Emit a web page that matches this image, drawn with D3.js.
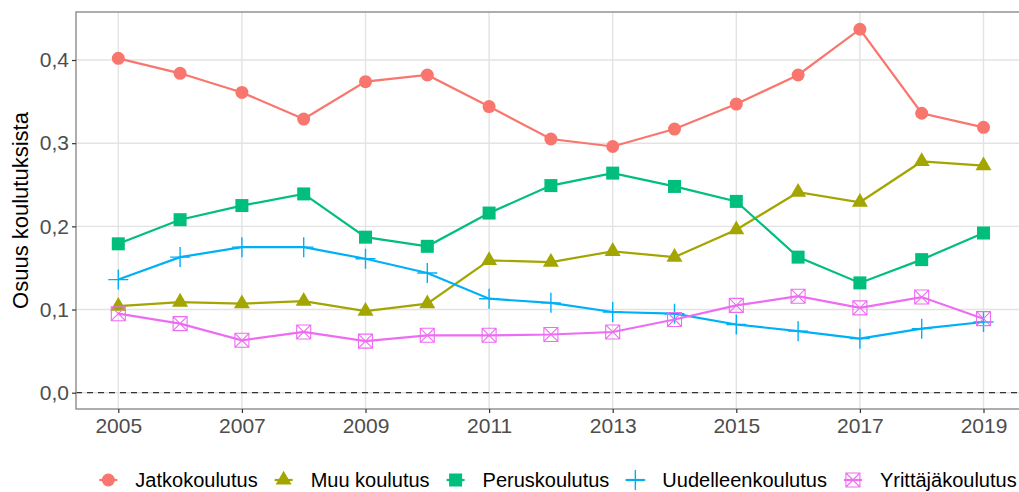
<!DOCTYPE html>
<html>
<head>
<meta charset="utf-8">
<script src="https://cdn.jsdelivr.net/npm/d3@7"></script>
<style>
  html, body { margin: 0; padding: 0; background: #fff; }
  svg { display: block; font-family: "Liberation Sans", Arial, sans-serif; }
</style>
</head>
<body>
<svg id="chart" width="1019" height="492"></svg>
<script>
const years = [2005, 2006, 2007, 2008, 2009, 2010, 2011, 2012, 2013, 2014, 2015, 2016, 2017, 2018, 2019];
const seriesNames = ["Jatkokoulutus", "Muu koulutus", "Peruskoulutus", "Uudelleenkoulutus", "Yrittäjäkoulutus"];
const jatkokoulutus     = [0.402, 0.384, 0.361, 0.329, 0.374, 0.382, 0.344, 0.305, 0.296, 0.317, 0.347, 0.382, 0.437, 0.336, 0.319];
const muuKoulutus       = [0.104, 0.109, 0.107, 0.110, 0.098, 0.107, 0.159, 0.157, 0.170, 0.163, 0.196, 0.241, 0.229, 0.278, 0.273];
const peruskoulutus     = [0.179, 0.208, 0.225, 0.239, 0.187, 0.176, 0.216, 0.249, 0.264, 0.248, 0.230, 0.163, 0.132, 0.160, 0.192];
const uudelleenkoulutus = [0.136, 0.163, 0.175, 0.175, 0.161, 0.144, 0.113, 0.108, 0.097, 0.095, 0.082, 0.074, 0.065, 0.077, 0.085];
const yrittajakoulutus  = [0.095, 0.083, 0.063, 0.073, 0.062, 0.069, 0.069, 0.070, 0.073, 0.088, 0.105, 0.116, 0.102, 0.115, 0.089];
const yTicks = [0, 0.1, 0.2, 0.3, 0.4];
const xTicks = [2005, 2007, 2009, 2011, 2013, 2015, 2017, 2019];
const yTitle = "Osuus koulutuksista";

const colors = ["#F8766D", "#A3A500", "#00BF7D", "#00B0F6", "#EE6BF3"];
const shapes = ["circle", "triangle", "square", "plus", "boxx"];
const values = [jatkokoulutus, muuKoulutus, peruskoulutus, uudelleenkoulutus, yrittajakoulutus];
const series = seriesNames.map((name, i) => ({
  name, color: colors[i], shape: shapes[i],
  points: years.map((y, j) => ({ year: y, value: values[i][j] }))
}));

const svg = d3.select("#chart");
const panel = { left: 76, top: 12, right: 1027, bottom: 409 };

const x = d3.scaleLinear().domain([2005, 2019]).range([118.3, 983.5]);
const y = d3.scaleLinear().domain([0, 0.4]).range([392.7, 60]);

// gridlines
const g = svg.append("g");
g.selectAll(".hgrid").data(yTicks).enter().append("line")
  .attr("x1", panel.left).attr("x2", panel.right)
  .attr("y1", d => y(d)).attr("y2", d => y(d))
  .attr("stroke", "#E3E3E3").attr("stroke-width", 1.4);
g.selectAll(".vgrid").data(xTicks).enter().append("line")
  .attr("x1", d => x(d)).attr("x2", d => x(d))
  .attr("y1", panel.top).attr("y2", panel.bottom)
  .attr("stroke", "#E3E3E3").attr("stroke-width", 1.4);

// dashed zero line
g.append("line")
  .attr("x1", panel.left).attr("x2", panel.right)
  .attr("y1", y(0)).attr("y2", y(0))
  .attr("stroke", "#333").attr("stroke-width", 1.2)
  .attr("stroke-dasharray", "6,5");

// lines
const line = d3.line().x(d => x(d.year)).y(d => y(d.value));
series.forEach(s => {
  g.append("path").datum(s.points)
    .attr("d", line).attr("fill", "none")
    .attr("stroke", s.color).attr("stroke-width", 2.2);
});

function drawShape(sel, shape, color, cx, cy) {
  if (shape === "circle") {
    sel.append("circle").attr("cx", cx).attr("cy", cy).attr("r", 6.5).attr("fill", color);
  } else if (shape === "square") {
    sel.append("rect").attr("x", cx - 6.5).attr("y", cy - 6.5).attr("width", 13).attr("height", 13).attr("fill", color);
  } else if (shape === "triangle") {
    const s = 16, h = s * Math.sqrt(3) / 2;
    sel.append("path")
      .attr("d", `M${cx},${cy - h * 2 / 3} L${cx + s / 2},${cy + h / 3} L${cx - s / 2},${cy + h / 3} Z`)
      .attr("fill", color);
  } else if (shape === "plus") {
    const r = 10;
    sel.append("path")
      .attr("d", `M${cx - r},${cy} H${cx + r} M${cx},${cy - r} V${cy + r}`)
      .attr("stroke", color).attr("stroke-width", 1.4).attr("fill", "none");
  } else if (shape === "boxx") {
    const r = 7;
    sel.append("path")
      .attr("d", `M${cx - r},${cy - r} H${cx + r} V${cy + r} H${cx - r} Z M${cx - r},${cy - r} L${cx + r},${cy + r} M${cx + r},${cy - r} L${cx - r},${cy + r}`)
      .attr("stroke", color).attr("stroke-width", 1.1).attr("fill", "none");
  }
}

series.forEach(s => {
  const pg = g.append("g");
  s.points.forEach(p => drawShape(pg, s.shape, s.color, x(p.year), y(p.value)));
});

// panel border
svg.append("rect")
  .attr("x", panel.left).attr("y", panel.top)
  .attr("width", panel.right - panel.left).attr("height", panel.bottom - panel.top)
  .attr("fill", "none").attr("stroke", "#8C8C8C").attr("stroke-width", 1.4);

// axes
const yAxis = svg.append("g").attr("transform", `translate(${panel.left},0)`)
  .call(d3.axisLeft(y).tickValues(yTicks).tickSize(4).tickPadding(3)
    .tickFormat(d => d3.format(".1f")(d).replace(".", ",")));
const xAxis = svg.append("g").attr("transform", `translate(0,${panel.bottom})`)
  .call(d3.axisBottom(x).tickValues(xTicks).tickSize(4).tickPadding(5).tickFormat(d3.format("d")));
[yAxis, xAxis].forEach(a => {
  a.select(".domain").remove();
  a.selectAll(".tick line").attr("stroke", "#333").attr("stroke-width", 1.2);
  a.selectAll(".tick text").attr("fill", "#4D4D4D").style("font-size", "21px")
    .style("font-family", "'Liberation Sans', Arial, sans-serif");
});

// y axis title
svg.append("text")
  .attr("transform", `translate(28,${(panel.top + panel.bottom) / 2}) rotate(-90)`)
  .attr("text-anchor", "middle")
  .style("font-size", "22px").attr("fill", "#000")
  .text(yTitle);

// legend
const legend = svg.append("g");
const legendY = 480;
const items = [];
let cursor = 0;
series.forEach(s => {
  const it = legend.append("g");
  it.append("line").attr("x1", -9).attr("x2", 9).attr("y1", 0).attr("y2", 0)
    .attr("stroke", s.color).attr("stroke-width", 2.2);
  drawShape(it, s.shape, s.color, 0, 0);
  const t = it.append("text").attr("x", 27).attr("y", 0).attr("dy", "0.35em")
    .style("font-size", "20px").attr("fill", "#000").text(s.name);
  const w = t.node().getComputedTextLength();
  items.push({ it, start: cursor });
  cursor += 27 + w + 26;
});
const total = cursor - 26 + 11;
const startX = 557 - total / 2 + 11;
items.forEach(d => d.it.attr("transform", `translate(${startX + d.start},${legendY})`));
</script>
</body>
</html>
